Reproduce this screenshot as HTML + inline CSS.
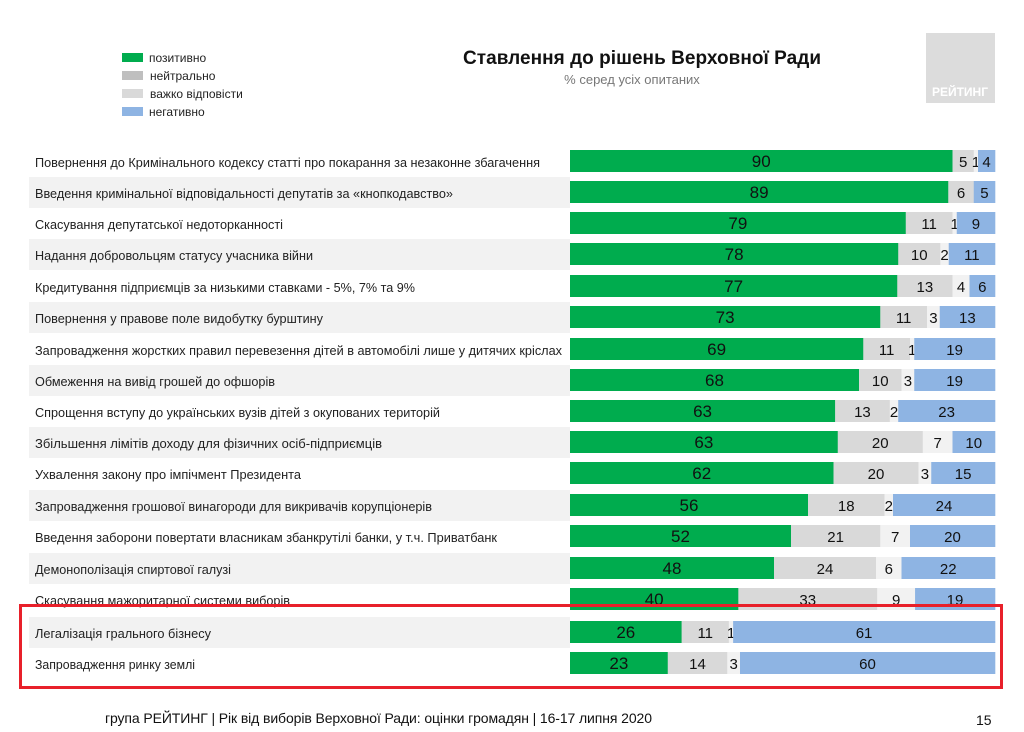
<!DOCTYPE html>
<html><head><meta charset="utf-8"><style>
body{margin:0;background:#fff;}
svg{display:block;font-family:"Liberation Sans",Arial,sans-serif;}
</style></head><body>
<svg width="1024" height="732" viewBox="0 0 1024 732" xmlns="http://www.w3.org/2000/svg">
<rect width="1024" height="732" fill="#fff"/>
<rect x="122" y="53" width="21" height="9" fill="#00ac4e"/>
<rect x="122" y="71" width="21" height="9" fill="#bfbfbf"/>
<rect x="122" y="89" width="21" height="9" fill="#d9d9d9"/>
<rect x="122" y="107" width="21" height="9" fill="#8eb4e3"/>
<g font-size="12" fill="#222">
<text x="149" y="62">позитивно</text>
<text x="150" y="80">нейтрально</text>
<text x="150" y="98">важко відповісти</text>
<text x="149" y="116">негативно</text>
</g>
<text x="642" y="64" font-size="19" font-weight="bold" text-anchor="middle" fill="#111" textLength="358">Ставлення до рішень Верховної Ради</text>
<text x="632" y="84" font-size="13" text-anchor="middle" fill="#777">% серед усіх опитаних</text>
<rect x="926" y="33" width="69" height="70" fill="#dcdcdc"/>
<text x="960" y="96" font-size="12" font-weight="bold" text-anchor="middle" fill="#fff">РЕЙТИНГ</text>
<g id="rows"></g>
<rect x="20.5" y="605.5" width="981" height="82" fill="none" stroke="#e8202a" stroke-width="3"/>
<text x="105" y="723" font-size="14" fill="#111" textLength="547">група РЕЙТИНГ | Рік від виборів Верховної Ради: оцінки громадян | 16-17 липня 2020</text>
<text x="976" y="725" font-size="14" fill="#111">15</text>
</svg>
<script>
const d=[
["Повернення до Кримінального кодексу статті про покарання за незаконне збагачення",90,5,1,4,505],
["Введення кримінальної відповідальності депутатів за «кнопкодавство»",89,6,0,5,418],
["Скасування депутатської недоторканності",79,11,1,9,248],
["Надання добровольцям статусу учасника війни",78,10,2,11,278],
["Кредитування підприємців за низькими ставками - 5%, 7% та 9%",77,13,4,6,380],
["Повернення у правове поле видобутку бурштину",73,11,3,13,288],
["Запровадження жорстких правил перевезення дітей в автомобілі лише у дитячих кріслах",69,11,1,19,527],
["Обмеження на вивід грошей до офшорів",68,10,3,19,240],
["Спрощення вступу до українських вузів дітей з окупованих територій",63,13,2,23,405],
["Збільшення лімітів доходу для фізичних осіб-підприємців",63,20,7,10,347],
["Ухвалення закону про імпічмент Президента",62,20,3,15,266],
["Запровадження грошової винагороди для викривачів корупціонерів",56,18,2,24,397],
["Введення заборони повертати власникам збанкрутілі банки, у т.ч. Приватбанк",52,21,7,20,462],
["Демонополізація спиртової галузі",48,24,6,22,196],
["Скасування мажоритарної системи виборів",40,33,9,19,255],
["Легалізація грального бізнесу",26,11,1,61,176],
["Запровадження ринку землі",23,14,3,60,160]];
const cols=["#00ac4e","#d9d9d9","#f2f2f2","#8eb4e3"];
const ns="http://www.w3.org/2000/svg";
const g=document.getElementById("rows");
function el(t,a,txt){const e=document.createElementNS(ns,t);for(const k in a)e.setAttribute(k,a[k]);if(txt!==undefined)e.textContent=txt;g.appendChild(e);return e;}
const centers=[161,192,223,254,286,317,349,380,411,442,473,505,536,568,599,632,663];
d.forEach((r,i)=>{
 const cy=centers[i];
 if(i%2==1) el("rect",{x:29,y:cy-15,width:541,height:31,fill:"#f2f2f2"});
 el("text",{x:35,y:cy+6,"font-size":"13",fill:"#222",textLength:r[5],lengthAdjust:"spacingAndGlyphs"},r[0]);
 const tot=r[1]+r[2]+r[3]+r[4];
 let x=570;const s=425/tot;
 for(let k=0;k<4;k++){
  const v=r[k+1];if(!v)continue;const w=v*s;
  el("rect",{x:x,y:cy-11,width:w+0.3,height:22,fill:cols[k]});
  el("text",{x:x+w/2,y:cy+6,"font-size":k==0?"17":"15","text-anchor":"middle",fill:"#111"},v);
  x+=w;
 }
});
</script>
</body></html>
